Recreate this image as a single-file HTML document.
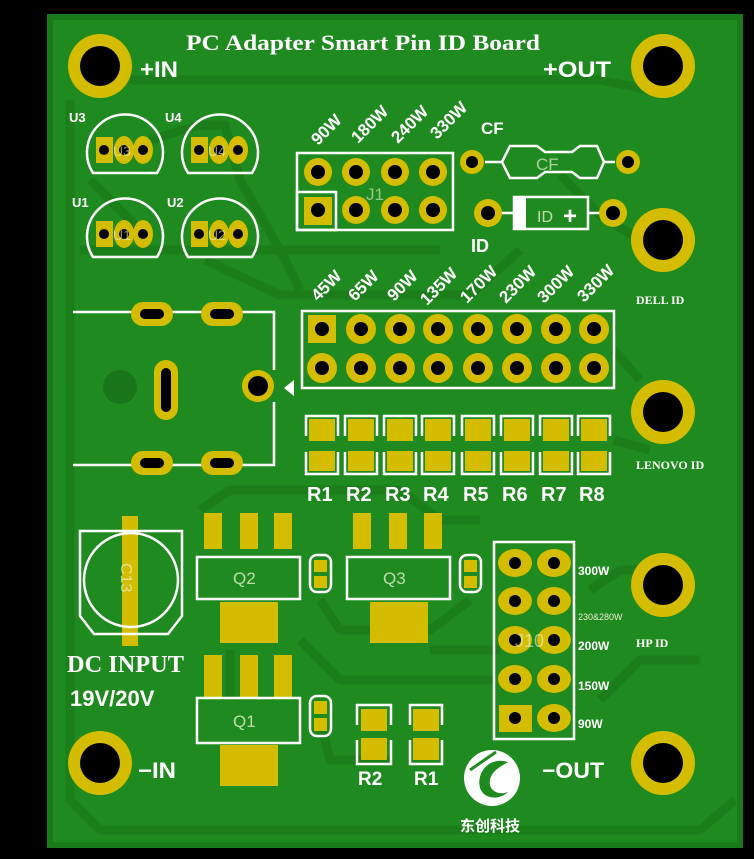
<!DOCTYPE html>
<html><head><meta charset="utf-8"><style>
html,body{margin:0;padding:0;background:#000;width:754px;height:859px;overflow:hidden}
svg{display:block}
.s{font-family:"Liberation Sans",sans-serif;font-weight:bold;fill:#fff}
.r{font-family:"Liberation Serif",serif;font-weight:bold;fill:#fff}
.t{font-family:"Liberation Sans",sans-serif;fill:#e8f0d0}
</style></head><body>
<svg width="754" height="859" viewBox="0 0 754 859" xmlns="http://www.w3.org/2000/svg">
<rect x="0" y="0" width="754" height="859" fill="#000"/>
<rect x="50" y="17" width="690" height="828" fill="#1f8a1f"/>
<rect x="50" y="17" width="690" height="828" fill="none" stroke="#197a19" stroke-width="6"/>
<!-- traces -->
<g fill="none" stroke="#1a7a1a" stroke-width="9" stroke-linejoin="round" opacity="0.75">
<path d="M130 80 H600 L650 90"/>
<path d="M70 100 V800 L100 830 H700 L735 800"/>
<path d="M90 180 L140 230 M205 260 L280 295 H470 L520 250"/>
<path d="M150 140 L200 125 H225 L240 180 L280 250 H440"/>
<path d="M560 175 L600 215 L640 240"/>
<path d="M80 250 H280 L300 290"/>
<path d="M200 510 L230 490 H400 L440 520 H480"/>
<path d="M320 600 L340 630 H430 L470 600"/>
<path d="M230 650 V700 M320 720 L330 760 H390"/>
<path d="M600 700 L640 660 H700"/>
<path d="M430 650 H500 M440 680 H495 M300 640 L340 680 H450"/>
<path d="M590 590 L620 570 H640"/>
<path d="M614 350 L640 380 M614 440 L650 450"/>
</g>
<!-- mount holes -->
<g fill="#d4bc00">
<circle cx="100" cy="66" r="32"/><circle cx="663" cy="66" r="32"/>
<circle cx="663" cy="240" r="32"/><circle cx="663" cy="412" r="32"/>
<circle cx="663" cy="585" r="32"/><circle cx="100" cy="763" r="32"/>
<circle cx="663" cy="763" r="32"/>
</g>
<g fill="#000">
<circle cx="100" cy="66" r="20"/><circle cx="663" cy="66" r="20"/>
<circle cx="663" cy="240" r="20"/><circle cx="663" cy="412" r="20"/>
<circle cx="663" cy="585" r="20"/><circle cx="100" cy="763" r="20"/>
<circle cx="663" cy="763" r="20"/>
</g>
<text x="186" y="50" class="r" font-size="22" textLength="354" lengthAdjust="spacingAndGlyphs">PC Adapter Smart Pin ID Board</text>
<text x="140" y="77" class="s" font-size="22" textLength="38" lengthAdjust="spacingAndGlyphs">+IN</text>
<text x="543" y="77" class="s" font-size="22" textLength="68" lengthAdjust="spacingAndGlyphs">+OUT</text>
<text x="138" y="778" class="s" font-size="22" textLength="38" lengthAdjust="spacingAndGlyphs">−IN</text>
<text x="542" y="778" class="s" font-size="22" textLength="62" lengthAdjust="spacingAndGlyphs">−OUT</text>

<!-- U regulators -->
<g fill="none" stroke="#fff" stroke-width="2.5">
<path d="M93 173 A38 38 0 1 1 157 173 Z"/>
<path d="M188 173 A38 38 0 1 1 252 173 Z"/>
<path d="M93 257 A38 38 0 1 1 157 257 Z"/>
<path d="M188 257 A38 38 0 1 1 252 257 Z"/>
</g>
<g fill="#d4bc00">
<rect x="96" y="137" width="17" height="26"/><ellipse cx="124" cy="150" rx="10" ry="14"/><ellipse cx="143" cy="150" rx="10" ry="14"/>
<rect x="191" y="137" width="17" height="26"/><ellipse cx="219" cy="150" rx="10" ry="14"/><ellipse cx="238" cy="150" rx="10" ry="14"/>
<rect x="96" y="221" width="17" height="26"/><ellipse cx="124" cy="234" rx="10" ry="14"/><ellipse cx="143" cy="234" rx="10" ry="14"/>
<rect x="191" y="221" width="17" height="26"/><ellipse cx="219" cy="234" rx="10" ry="14"/><ellipse cx="238" cy="234" rx="10" ry="14"/>
</g>
<g fill="#000">
<circle cx="104" cy="150" r="5"/><circle cx="124" cy="150" r="5"/><circle cx="143" cy="150" r="5"/>
<circle cx="199" cy="150" r="5"/><circle cx="219" cy="150" r="5"/><circle cx="238" cy="150" r="5"/>
<circle cx="104" cy="234" r="5"/><circle cx="124" cy="234" r="5"/><circle cx="143" cy="234" r="5"/>
<circle cx="199" cy="234" r="5"/><circle cx="219" cy="234" r="5"/><circle cx="238" cy="234" r="5"/>
</g>
<text x="69" y="122" class="s" font-size="13">U3</text>
<text x="165" y="122" class="s" font-size="13">U4</text>
<text x="72" y="207" class="s" font-size="13">U1</text>
<text x="167" y="207" class="s" font-size="13">U2</text>
<g class="t" font-size="14" opacity="0.6">
<text x="113" y="156">U3</text><text x="208" y="156">U4</text><text x="113" y="240">U1</text><text x="208" y="240">U2</text>
</g>

<!-- J1 -->
<rect x="297" y="153" width="156" height="77" fill="none" stroke="#fff" stroke-width="2.5"/>
<rect x="297" y="192" width="39" height="38" fill="none" stroke="#fff" stroke-width="2.5"/>
<g fill="#d4bc00">
<circle cx="318" cy="172" r="14"/><circle cx="356" cy="172" r="14"/><circle cx="395" cy="172" r="14"/><circle cx="433" cy="172" r="14"/>
<rect x="304" y="197" width="28" height="28"/><circle cx="356" cy="210" r="14"/><circle cx="395" cy="210" r="14"/><circle cx="433" cy="210" r="14"/>
</g>
<g fill="#000">
<circle cx="318" cy="172" r="7"/><circle cx="356" cy="172" r="7"/><circle cx="395" cy="172" r="7"/><circle cx="433" cy="172" r="7"/>
<circle cx="318" cy="210" r="7"/><circle cx="356" cy="210" r="7"/><circle cx="395" cy="210" r="7"/><circle cx="433" cy="210" r="7"/>
</g>
<text x="366" y="200" class="t" font-size="17" opacity="0.6">J1</text>
<g class="s" font-size="17">
<text transform="translate(318,146) rotate(-45)">90W</text>
<text transform="translate(358,144) rotate(-45)">180W</text>
<text transform="translate(398,144) rotate(-45)">240W</text>
<text transform="translate(437,140) rotate(-45)">330W</text>
</g>
<text x="481" y="134" class="s" font-size="17">CF</text>
<!-- CF resistor -->
<line x1="485" y1="162" x2="615" y2="162" stroke="#fff" stroke-width="2.5"/>
<path d="M510 146 H537 L545 152 H572 L580 146 H597 L604 162 L597 178 H580 L572 172 H545 L537 178 H510 L502 162 Z" fill="#1f8a1f" stroke="#fff" stroke-width="2.5"/>
<text x="536" y="170" class="t" font-size="17" opacity="0.7">CF</text>
<circle cx="472" cy="162" r="12" fill="#d4bc00"/><circle cx="472" cy="162" r="6" fill="#000"/>
<circle cx="628" cy="162" r="12" fill="#d4bc00"/><circle cx="628" cy="162" r="6" fill="#000"/>
<!-- diode -->
<line x1="500" y1="213" x2="600" y2="213" stroke="#fff" stroke-width="2.5"/>
<rect x="514" y="197" width="74" height="32" fill="#1f8a1f" stroke="#fff" stroke-width="2.5"/>
<rect x="514" y="197" width="12" height="32" fill="#fff"/>
<text x="537" y="222" class="t" font-size="16" opacity="0.8">ID</text>
<text x="563" y="224" class="s" font-size="24">+</text>
<circle cx="488" cy="213" r="14" fill="#d4bc00"/><circle cx="488" cy="213" r="7" fill="#000"/>
<circle cx="613" cy="213" r="14" fill="#d4bc00"/><circle cx="613" cy="213" r="7" fill="#000"/>
<text x="471" y="252" class="s" font-size="18">ID</text>

<!-- big connector -->
<path d="M73 312 H132 M172 312 H202 M242 312 H274 V370 M274 402 V465 H242 M202 465 H172 M132 465 H73 Z" fill="none" stroke="#fff" stroke-width="2.5"/>
<circle cx="120" cy="387" r="17" fill="#197519"/>
<g fill="#d4bc00">
<rect x="131" y="302" width="42" height="24" rx="12"/><rect x="201" y="302" width="42" height="24" rx="12"/>
<rect x="131" y="451" width="42" height="24" rx="12"/><rect x="201" y="451" width="42" height="24" rx="12"/>
<rect x="154" y="360" width="24" height="60" rx="12"/>
<circle cx="258" cy="386" r="16"/>
</g>
<g fill="#000">
<rect x="140" y="309" width="24" height="10" rx="5"/><rect x="210" y="309" width="24" height="10" rx="5"/>
<rect x="140" y="458" width="24" height="10" rx="5"/><rect x="210" y="458" width="24" height="10" rx="5"/>
<rect x="161" y="368" width="10" height="44" rx="5"/>
<circle cx="258" cy="386" r="10"/>
</g>
<path d="M294 380 L284 388 L294 396 Z" fill="#fff"/>

<!-- header 2x8 -->
<rect x="302" y="311" width="312" height="77" fill="none" stroke="#fff" stroke-width="2.5"/>
<g fill="#d4bc00">
<rect x="308" y="315" width="28" height="28"/>
<circle cx="361" cy="329" r="15"/><circle cx="400" cy="329" r="15"/><circle cx="438" cy="329" r="15"/><circle cx="478" cy="329" r="15"/><circle cx="517" cy="329" r="15"/><circle cx="556" cy="329" r="15"/><circle cx="594" cy="329" r="15"/>
<circle cx="322" cy="368" r="15"/><circle cx="361" cy="368" r="15"/><circle cx="400" cy="368" r="15"/><circle cx="438" cy="368" r="15"/><circle cx="478" cy="368" r="15"/><circle cx="517" cy="368" r="15"/><circle cx="556" cy="368" r="15"/><circle cx="594" cy="368" r="15"/>
</g>
<g fill="#000">
<circle cx="322" cy="329" r="7"/><circle cx="361" cy="329" r="7"/><circle cx="400" cy="329" r="7"/><circle cx="438" cy="329" r="7"/><circle cx="478" cy="329" r="7"/><circle cx="517" cy="329" r="7"/><circle cx="556" cy="329" r="7"/><circle cx="594" cy="329" r="7"/>
<circle cx="322" cy="368" r="7"/><circle cx="361" cy="368" r="7"/><circle cx="400" cy="368" r="7"/><circle cx="438" cy="368" r="7"/><circle cx="478" cy="368" r="7"/><circle cx="517" cy="368" r="7"/><circle cx="556" cy="368" r="7"/><circle cx="594" cy="368" r="7"/>
</g>
<g class="s" font-size="17">
<text transform="translate(318,302) rotate(-45)">45W</text>
<text transform="translate(355,302) rotate(-45)">65W</text>
<text transform="translate(394,302) rotate(-45)">90W</text>
<text transform="translate(427,306) rotate(-45)">135W</text>
<text transform="translate(467,304) rotate(-45)">170W</text>
<text transform="translate(506,304) rotate(-45)">230W</text>
<text transform="translate(544,304) rotate(-45)">300W</text>
<text transform="translate(584,303) rotate(-45)">330W</text>
</g>
<!-- R1..R8 -->
<g fill="none" stroke="#fff" stroke-width="2.5">
<path d="M306 436 V416 H338 V436 M306 452 V474 H338 V452"/>
<path d="M345 436 V416 H377 V436 M345 452 V474 H377 V452"/>
<path d="M384 436 V416 H416 V436 M384 452 V474 H416 V452"/>
<path d="M422 436 V416 H454 V436 M422 452 V474 H454 V452"/>
<path d="M462 436 V416 H494 V436 M462 452 V474 H494 V452"/>
<path d="M501 436 V416 H533 V436 M501 452 V474 H533 V452"/>
<path d="M540 436 V416 H572 V436 M540 452 V474 H572 V452"/>
<path d="M578 436 V416 H610 V436 M578 452 V474 H610 V452"/>
</g>
<g fill="#d4bc00">
<rect x="309" y="419" width="26" height="22"/><rect x="309" y="451" width="26" height="20"/>
<rect x="348" y="419" width="26" height="22"/><rect x="348" y="451" width="26" height="20"/>
<rect x="387" y="419" width="26" height="22"/><rect x="387" y="451" width="26" height="20"/>
<rect x="425" y="419" width="26" height="22"/><rect x="425" y="451" width="26" height="20"/>
<rect x="465" y="419" width="26" height="22"/><rect x="465" y="451" width="26" height="20"/>
<rect x="504" y="419" width="26" height="22"/><rect x="504" y="451" width="26" height="20"/>
<rect x="543" y="419" width="26" height="22"/><rect x="543" y="451" width="26" height="20"/>
<rect x="581" y="419" width="26" height="22"/><rect x="581" y="451" width="26" height="20"/>
</g>
<g class="s" font-size="20">
<text x="307" y="501">R1</text><text x="346" y="501">R2</text><text x="385" y="501">R3</text><text x="423" y="501">R4</text>
<text x="463" y="501">R5</text><text x="502" y="501">R6</text><text x="541" y="501">R7</text><text x="579" y="501">R8</text>
</g>
<text x="636" y="304" class="r" font-size="12">DELL ID</text>
<text x="636" y="469" class="r" font-size="12">LENOVO ID</text>
<text x="636" y="647" class="r" font-size="12">HP ID</text>

<!-- C13 -->
<rect x="122" y="516" width="16" height="130" fill="#d4bc00"/>
<path d="M80 531 H182 V616 L168 634 H94 L80 616 Z" fill="none" stroke="#fff" stroke-width="2.5"/>
<circle cx="131" cy="580" r="47" fill="none" stroke="#fff" stroke-width="2.5"/>
<text transform="translate(121,563) rotate(90)" class="t" font-size="16" opacity="0.7">C13</text>
<text x="67" y="672" class="r" font-size="24" textLength="117" lengthAdjust="spacingAndGlyphs">DC INPUT</text>
<text x="70" y="706" class="s" font-size="22" font-weight="normal">19V/20V</text>

<!-- Q2 Q3 Q1 -->
<g fill="#d4bc00">
<rect x="204" y="513" width="18" height="36"/><rect x="240" y="513" width="18" height="36"/><rect x="274" y="513" width="18" height="36"/>
<rect x="220" y="602" width="58" height="41"/>
<rect x="353" y="513" width="18" height="36"/><rect x="389" y="513" width="18" height="36"/><rect x="424" y="513" width="18" height="36"/>
<rect x="370" y="602" width="58" height="41"/>
<rect x="204" y="655" width="18" height="42"/><rect x="240" y="655" width="18" height="42"/><rect x="274" y="655" width="18" height="42"/>
<rect x="220" y="745" width="58" height="41"/>
</g>
<g fill="#1f8a1f" stroke="#fff" stroke-width="2.5">
<rect x="197" y="557" width="103" height="42"/>
<rect x="347" y="557" width="103" height="42"/>
<rect x="197" y="698" width="103" height="45"/>
</g>
<g class="t" font-size="17" opacity="0.8">
<text x="233" y="584">Q2</text><text x="383" y="584">Q3</text><text x="233" y="727">Q1</text>
</g>
<g fill="none" stroke="#fff" stroke-width="2.5">
<rect x="310" y="555" width="21" height="37" rx="7"/>
<rect x="460" y="555" width="21" height="37" rx="7"/>
<rect x="310" y="696" width="21" height="40" rx="7"/>
</g>
<g fill="#d4bc00">
<rect x="314" y="560" width="13" height="12"/><rect x="314" y="576" width="13" height="12"/>
<rect x="464" y="560" width="13" height="12"/><rect x="464" y="576" width="13" height="12"/>
<rect x="314" y="701" width="13" height="13"/><rect x="314" y="718" width="13" height="13"/>
</g>
<!-- bottom R2 R1 -->
<g fill="none" stroke="#fff" stroke-width="2.5">
<path d="M357 725 V705 H391 V725 M357 740 V764 H391 V740"/>
<path d="M410 725 V705 H442 V725 M410 740 V764 H442 V740"/>
</g>
<g fill="#d4bc00">
<rect x="361" y="709" width="26" height="22"/><rect x="361" y="738" width="26" height="22"/>
<rect x="413" y="709" width="26" height="22"/><rect x="413" y="738" width="26" height="22"/>
</g>
<text x="358" y="785" class="s" font-size="19">R2</text>
<text x="414" y="785" class="s" font-size="19">R1</text>

<!-- J10 -->
<rect x="494" y="542" width="80" height="197" fill="none" stroke="#fff" stroke-width="2.5"/>
<g fill="#d4bc00">
<ellipse cx="515" cy="563" rx="17" ry="14"/><ellipse cx="554" cy="563" rx="17" ry="14"/>
<ellipse cx="515" cy="601" rx="17" ry="14"/><ellipse cx="554" cy="601" rx="17" ry="14"/>
<ellipse cx="515" cy="640" rx="17" ry="14"/><ellipse cx="554" cy="640" rx="17" ry="14"/>
<ellipse cx="515" cy="679" rx="17" ry="14"/><ellipse cx="554" cy="679" rx="17" ry="14"/>
<rect x="499" y="705" width="33" height="27"/><ellipse cx="554" cy="718" rx="17" ry="14"/>
</g>
<g fill="#000">
<circle cx="515" cy="563" r="6"/><circle cx="554" cy="563" r="6"/>
<circle cx="515" cy="601" r="6"/><circle cx="554" cy="601" r="6"/>
<circle cx="515" cy="640" r="6"/><circle cx="554" cy="640" r="6"/>
<circle cx="515" cy="679" r="6"/><circle cx="554" cy="679" r="6"/>
<circle cx="515" cy="718" r="6"/><circle cx="554" cy="718" r="6"/>
</g>
<text x="515" y="647" class="t" font-size="18" opacity="0.6">J10</text>
<g class="s" font-size="12">
<text x="578" y="575">300W</text><text x="578" y="650">200W</text><text x="578" y="690">150W</text><text x="578" y="728">90W</text>
</g>
<text x="578" y="620" class="t" font-size="9">230&amp;280W</text>

<!-- logo -->
<circle cx="492" cy="778" r="28" fill="#fff"/>
<path d="M508 762 C490 756 476 772 480 788 C484 800 500 800 508 792 C498 796 488 790 490 780 C492 770 502 766 508 762 Z" fill="#1f8a1f"/>
<path d="M470 770 L496 752" stroke="#1f8a1f" stroke-width="3"/>
<text x="460" y="831" font-family="'Liberation Sans','Noto Sans CJK SC',sans-serif" font-weight="bold" font-size="15" fill="#fff">东创科技</text>
</svg>
</body></html>
